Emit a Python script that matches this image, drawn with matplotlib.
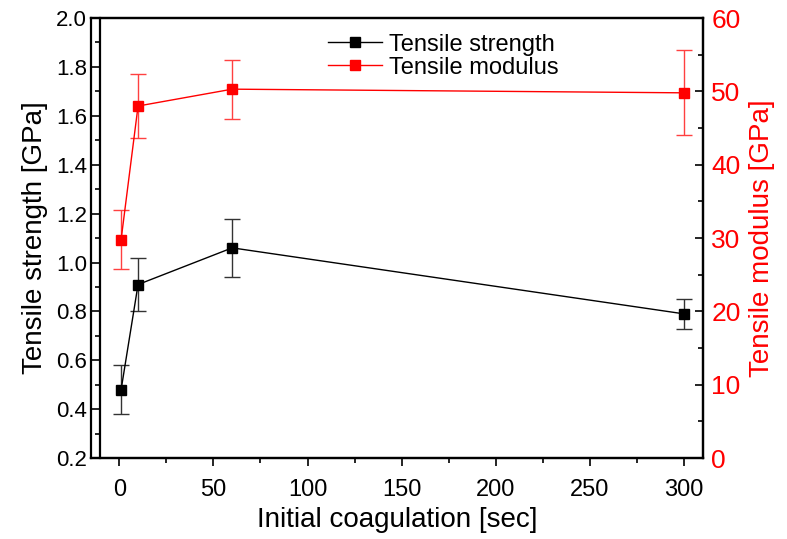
import matplotlib
matplotlib.use('Agg')
import matplotlib.pyplot as plt
from matplotlib.lines import Line2D
from matplotlib.ticker import MultipleLocator

plt.rcParams['font.family'] = ['Liberation Sans', 'DejaVu Sans']

# data
coag_time = [1, 10, 60, 300]
strength = [0.48, 0.91, 1.06, 0.79]
strength_err = [0.10, 0.11, 0.12, 0.06]
modulus = [29.8, 48.0, 50.3, 49.8]
modulus_err = [4.0, 4.4, 4.0, 5.8]

fig = plt.figure(figsize=(7.87, 5.39), dpi=100)
ax = fig.add_axes([0.1156, 0.150, 0.7776, 0.8166])
ax2 = ax.twinx()

ax.errorbar(coag_time, strength, yerr=strength_err, color='black', marker='s',
            markersize=7, lw=1, capsize=6, elinewidth=1, capthick=1,
            ecolor='#333333')
ax2.errorbar(coag_time, modulus, yerr=modulus_err, color='red', marker='s',
             markersize=7, lw=1, capsize=6, elinewidth=1, capthick=1,
             ecolor='#ff4040')

ax.set_xlim(-15, 310)
ax.set_ylim(0.2, 2.0)
ax2.set_ylim(0, 60)
ax.spines['left'].set_position(('data', -10))

ax.xaxis.set_major_locator(MultipleLocator(50))
ax.xaxis.set_minor_locator(MultipleLocator(25))
ax.yaxis.set_major_locator(MultipleLocator(0.2))
ax.yaxis.set_minor_locator(MultipleLocator(0.1))
ax2.yaxis.set_major_locator(MultipleLocator(10))
ax2.yaxis.set_minor_locator(MultipleLocator(5))

ax.tick_params(which='both', direction='out', width=1.2)
ax.tick_params(axis='x', labelsize=17, pad=9)
ax.tick_params(axis='y', labelsize=16)
ax.tick_params(which='major', length=6)
ax.tick_params(which='minor', length=3.5)
ax2.tick_params(which='both', direction='in', width=1.2, labelsize=19,
                colors='black', labelcolor='red', pad=6)
ax2.tick_params(which='major', length=6)
ax2.tick_params(which='minor', length=3.5)
for a in (ax, ax2):
    for s in a.spines.values():
        s.set_linewidth(1.6)

ax.set_xlabel('Initial coagulation [sec]', fontsize=20, labelpad=4)
ax.set_ylabel('Tensile strength [GPa]', fontsize=20, labelpad=6)
ax2.set_ylabel('Tensile modulus [GPa]', fontsize=20, color='red', labelpad=6)

handles = [Line2D([], [], color='black', marker='s', markersize=7, lw=1),
           Line2D([], [], color='red', marker='s', markersize=7, lw=1)]
ax.legend(handles, ['Tensile strength', 'Tensile modulus'], loc='upper left',
          bbox_to_anchor=(0.352, 1.013), frameon=False, fontsize=17,
          handlelength=2.3, handletextpad=0.3, labelspacing=0.05)

fig.savefig('out.png', dpi=100)
